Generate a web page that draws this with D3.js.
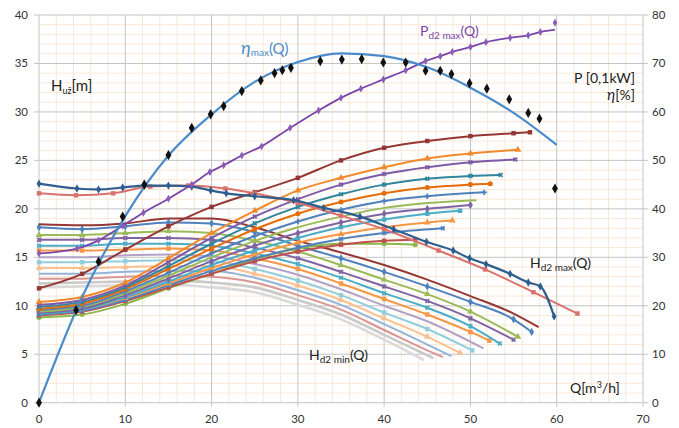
<!DOCTYPE html>
<html>
<head>
<meta charset="utf-8">
<style>
  body { margin: 0; background: #fff; font-family: Lato, "Liberation Sans", sans-serif; }
</style>
</head>
<body>
<div id="chart"></div>
<script src="https://d3js.org/d3.v7.min.js"></script>
<script>
// ---------- data ----------
const qTicks = [0, 10, 20, 30, 40, 50, 60, 70];
const hTicks = [0, 5, 10, 15, 20, 25, 30, 35, 40];
const pTicks = [0, 10, 20, 30, 40, 50, 60, 70, 80];

// common Q grid for the family curves
const qGrid = [0, 5, 10, 15, 20, 25, 30, 35, 40, 45, 50, 55];

// rising curves (H at qGrid, then the last point)
const r1 = [11.8, 13.3, 15.8, 18.2, 20.2, 21.7, 23.2, 25.0, 26.3, 27.0, 27.5, 27.8];
const r2 = [10.4, 10.9, 12.4, 14.9, 17.5, 19.8, 21.9, 23.2, 24.3, 25.2, 25.7];
const r3 = [10.1, 10.6, 12.1, 14.5, 17.0, 19.2, 21.0, 22.5, 23.6, 24.3, 24.8];
const r4 = [9.9, 10.4, 11.9, 14.1, 16.4, 18.5, 20.2, 21.5, 22.5, 23.1, 23.4];
const r5 = [9.7, 10.2, 11.7, 13.8, 15.9, 17.9, 19.5, 20.7, 21.6, 22.2, 22.5];
const r6 = [9.6, 10.0, 11.5, 13.4, 15.4, 17.2, 18.7, 19.9, 20.8, 21.3];
const r7 = [9.4, 9.9, 11.3, 13.1, 15.0, 16.7, 18.1, 19.2, 20.1, 20.6];
const r8 = [9.3, 9.7, 11.1, 12.8, 14.6, 16.2, 17.5, 18.6, 19.5, 20.0];
const r9 = [9.2, 9.6, 10.9, 12.5, 14.2, 15.7, 17.0, 18.1, 18.9, 19.5];
const r10 = [9.6, 9.7, 10.8, 12.3, 13.9, 15.3, 16.5, 17.4, 18.1, 18.6];
const r11 = [9.1, 9.5, 10.6, 12.1, 13.6, 14.9, 16.0, 16.9, 17.5];
const r12 = [9.0, 9.4, 10.5, 11.9, 13.3, 14.6, 15.6, 16.3, 16.7];
const r13 = [8.8, 9.1, 10.2, 11.8, 13.3, 14.8, 15.9, 16.4, 16.4];
const riseEnd = [[56.9, 27.9], [55.5, 26.1], [55.2, 25.1], [53.5, 23.5], [52.3, 22.6], [51.6, 21.7],
                 [50.7, 20.9], [50.0, 20.4], [48.8, 19.8], [47.9, 18.8], [46.8, 18.0], [43.6, 16.8], [43.6, 16.3]];

// falling curves (H at qGrid, then the last point)
const f1 = [18.4, 18.3, 18.5, 19.0, 19.0, 18.1, 16.7, 15.5, 14.2, 12.7, 11.0, 9.2];
const f2 = [18.1, 17.9, 18.2, 18.6, 18.5, 17.6, 16.2, 14.9, 13.5, 12.0, 10.4, 8.6];
const f3 = [17.3, 17.3, 17.5, 17.7, 17.5, 16.7, 15.6, 14.2, 12.7, 11.2, 9.4];
const f4 = [16.8, 16.8, 17.0, 17.0, 16.8, 16.0, 14.9, 13.5, 12.0, 10.5, 8.7];
const f5 = [16.2, 16.2, 16.4, 16.4, 16.2, 15.4, 14.3, 12.9, 11.3, 9.8, 7.9];
const f6 = [15.7, 15.7, 15.8, 15.9, 15.7, 14.9, 13.8, 12.3, 10.7, 9.1, 7.3];
const f7 = [15.0, 15.0, 15.2, 15.3, 15.1, 14.3, 13.2, 11.7, 10.0, 8.4];
const f8 = [14.5, 14.5, 14.6, 14.7, 14.6, 13.8, 12.6, 11.1, 9.3, 7.6];
const f9 = [13.9, 13.9, 14.0, 14.1, 14.1, 13.3, 12.1, 10.6, 8.7, 6.8];
const f10 = [13.3, 13.3, 13.5, 13.6, 13.6, 12.9, 11.6, 10.1, 8.1, 6.0];
const f11 = [12.8, 12.8, 13.0, 13.1, 13.0, 12.4, 11.1, 9.6, 7.5, 5.4];
const f12 = [12.3, 12.4, 12.5, 12.6, 12.4, 11.9, 10.6, 9.1, 7.0];
const f13 = [11.9, 12.0, 12.1, 12.2, 11.9, 11.4, 10.1, 8.6, 6.5];
const fallEnd = [[57.9, 7.8], [57.1, 7.3], [55.5, 6.8], [55.0, 6.5], [53.4, 6.1], [52.2, 6.4], [51.5, 5.6],
                 [50.2, 5.4], [48.8, 5.15], [47.8, 4.8], [46.8, 4.7], [45.7, 4.6], [44.6, 4.4]];

// H_d2max(Q) and the second top curve
const hMax = [[0, 22.6], [4.4, 22.1], [6.9, 22.0], [9.7, 22.2], [12.2, 22.4], [15, 22.4], [17.7, 22.3],
              [19.9, 21.9], [21.7, 21.6], [25, 21.3], [29.5, 20.9], [33, 20.1], [37.2, 19.2], [41.1, 17.9],
              [44.9, 16.6], [48, 15.7], [49.9, 14.9], [51.8, 14.3], [54.6, 13.3], [56.7, 12.4], [58.1, 12.0], [59.7, 8.9]];
const hTop = [[0, 21.6], [4.3, 21.4], [8.6, 21.6], [12.9, 22.3], [17.3, 22.4], [21.6, 22.1], [25, 21.6],
              [30, 20.6], [35, 19.3], [40, 17.9], [46.3, 15.7], [51.7, 13.75], [57.3, 11.4], [62.4, 9.2]];

// efficiency (right axis, %)
const etaQ = [0, 5, 10, 15, 20, 25, 30, 35, 40, 45, 50, 55, 60];
const etaFit = [0, 21.8, 38.5, 51.0, 59.5, 66.2, 70.3, 72.1, 71.5, 69.2, 65.0, 59.8, 53.2];
const etaPts = [[0, 0], [4.3, 19.1], [6.9, 29.1], [9.7, 38.4], [12.2, 45.0], [15.0, 51.1], [17.7, 56.7],
                [19.9, 59.5], [21.4, 61.2], [23.5, 64.3], [25.7, 66.5], [27.3, 68.0], [28.2, 68.6], [29.2, 69.1],
                [32.6, 70.5], [35.1, 70.8], [37.4, 70.9], [39.9, 70.2], [42.5, 70.2], [44.8, 68.5], [46.5, 68.5],
                [47.8, 67.8], [49.9, 65.9], [51.9, 64.8], [54.5, 62.6], [56.7, 59.8], [58.0, 58.6], [59.8, 44.2]];

// power P_d2max (right axis, 0,1 kW)
const pPts = [[0, 30.8], [4.4, 31.8], [6.9, 33.5], [9.7, 36.5], [12.1, 39.2], [15, 42.1], [17.7, 45.0],
              [19.8, 47.6], [21.4, 49.0], [23.5, 51.0], [25.8, 52.9], [29.1, 56.7], [32.4, 60.3], [35, 62.9],
              [37.3, 64.8], [39.9, 66.7], [42.5, 68.6], [44.8, 70.5], [46.5, 71.5], [47.9, 72.4], [50, 73.4],
              [51.8, 74.4], [54.6, 75.3], [56.7, 75.8], [58.1, 76.5], [59.8, 78.4]];
const pLineEnd = [59.8, 77.0];

// ---------- styles ----------
const riseColors = ["#953735", "#F08A2C", "#7F5BA6", "#31859C", "#E46C0A", "#4F81BD", "#9BBB59",
                    "#8064A2", "#4BACC6", "#F79646", "#4F81BD", "#C0504D", "#8CB84A"];
const riseMarks = ["square", "triangle", "x", "x", "circle", "plus", "none", "diamond", "square", "triangle", "x", "square", "circle"];
const fallColors = ["#953735", "#4F81BD", "#9BBB59", "#8064A2", "#4BACC6", "#F79646", "#B3A2C7",
                    "#93CDDD", "#FAC090", "#95B3D7", "#D99694", "#C9C9C9", "#D9D9D9"];
const fallMarks = ["none", "diamond", "triangle", "x", "x", "square", "none", "square", "triangle", "none", "none", "none", "none"];

// ---------- layout ----------
const W = 679, H = 428;
const x0 = 39, x1 = 643, yTop = 15, yBot = 402.7;

const svg = d3.select("#chart").append("svg")
  .attr("width", W).attr("height", H)
  .style("font-family", "Lato, 'Liberation Sans', sans-serif");

const x = d3.scaleLinear().domain([0, 70]).range([x0, x1]);
const y = d3.scaleLinear().domain([0, 40]).range([yBot, yTop]);
const y2 = d3.scaleLinear().domain([0, 80]).range([yBot, yTop]);

// minor grid
svg.append("g").selectAll("line")
  .data(d3.range(0, 71, 2).filter(v => v % 10 !== 0))
  .join("line")
    .attr("x1", d => x(d)).attr("x2", d => x(d))
    .attr("y1", yTop).attr("y2", yBot)
    .attr("stroke", "#fae8d6").attr("stroke-width", 1);
svg.append("g").selectAll("line")
  .data(d3.range(0, 41, 1).filter(v => v % 5 !== 0))
  .join("line")
    .attr("x1", x0).attr("x2", x1)
    .attr("y1", d => y(d)).attr("y2", d => y(d))
    .attr("stroke", "#fae8d6").attr("stroke-width", 1);

// major grid
svg.append("g").selectAll("line")
  .data(qTicks)
  .join("line")
    .attr("x1", d => x(d)).attr("x2", d => x(d))
    .attr("y1", yTop).attr("y2", yBot + 4)
    .attr("stroke", "#c4c4c4").attr("stroke-width", 1);
svg.append("g").selectAll("line")
  .data(hTicks)
  .join("line")
    .attr("x1", x0 - 5).attr("x2", x1 + 5)
    .attr("y1", d => y(d)).attr("y2", d => y(d))
    .attr("stroke", "#c4c4c4").attr("stroke-width", 1);

// tick labels
const tickStyle = sel => sel.attr("font-size", "11.5px").attr("fill", "#333");
svg.append("g").selectAll("text").data(hTicks).join("text")
  .attr("x", 28).attr("y", d => y(d) + 4).attr("text-anchor", "end")
  .text(d => d).call(tickStyle);
svg.append("g").selectAll("text").data(pTicks).join("text")
  .attr("x", 652).attr("y", d => y2(d) + 4).attr("text-anchor", "start")
  .text(d => d).call(tickStyle);
svg.append("g").selectAll("text").data(qTicks).join("text")
  .attr("x", d => x(d)).attr("y", 423).attr("text-anchor", "middle")
  .text(d => d).call(tickStyle);

// ---------- helpers ----------
const lineH = d3.line().x(d => x(d[0])).y(d => y(d[1])).curve(d3.curveMonotoneX);
const lineR = d3.line().x(d => x(d[0])).y(d => y2(d[1])).curve(d3.curveMonotoneX);

const symTypes = {
  square: d3.symbolSquare, triangle: d3.symbolTriangle, circle: d3.symbolCircle,
  diamond: d3.symbolDiamond, x: d3.symbolCross, plus: d3.symbolCross
};

function drawMarks(pts, color, mark, yScale, size) {
  if (mark === "none") return;
  const g = svg.append("g");
  g.selectAll("path").data(pts).join("path")
    .attr("d", d3.symbol().type(symTypes[mark]).size(size))
    .attr("transform", d => `translate(${x(d[0])},${yScale(d[1])})` + (mark === "x" ? " rotate(45)" : ""))
    .attr("fill", color);
}

function buildPts(vals, end) {
  return vals.map((v, i) => [qGrid[i], v]).concat([end]);
}

function drawSeries(pts, color, mark, width) {
  svg.append("path").datum(pts)
    .attr("d", lineH)
    .attr("fill", "none").attr("stroke", color).attr("stroke-width", width);
  drawMarks(pts, color, mark, y, mark === "x" || mark === "plus" ? 16 : 20);
}

// ---------- series ----------
const fall = [f1, f2, f3, f4, f5, f6, f7, f8, f9, f10, f11, f12, f13];
for (let i = fall.length - 1; i >= 0; i--) {
  drawSeries(buildPts(fall[i], fallEnd[i]), fallColors[i], fallMarks[i], i >= 11 ? 2.6 : 2);
}

const rise = [r1, r2, r3, r4, r5, r6, r7, r8, r9, r10, r11, r12, r13];
for (let i = rise.length - 1; i >= 0; i--) {
  drawSeries(buildPts(rise[i], riseEnd[i]), riseColors[i], riseMarks[i], 2);
}

drawSeries(hTop, "#D9716C", "square", 2);
drawSeries(hMax, "#2E5E8E", "diamond", 2.2);

// power line and points
svg.append("path").datum(pPts.slice(0, -1).concat([pLineEnd]))
  .attr("d", lineR)
  .attr("fill", "none").attr("stroke", "#7A45A8").attr("stroke-width", 1.8);
drawMarks(pPts, "#8A5CB8", "diamond", y2, 18);

// efficiency fit and measured points
svg.append("path").datum(etaQ.map((q, i) => [q, etaFit[i]]))
  .attr("d", lineR)
  .attr("fill", "none").attr("stroke", "#4A8BCB").attr("stroke-width", 2.2);
drawMarks(etaPts, "#111", "diamond", y2, 30);

// ---------- labels ----------
function label(xp, yp, parts, color) {
  const t = svg.append("text").attr("x", xp).attr("y", yp).attr("fill", color || "#222");
  parts.forEach(p => {
    const ts = t.append("tspan").text(p.t).attr("font-size", p.s + "px");
    if (p.dy) ts.attr("dy", p.dy);
    if (p.it) ts.attr("font-style", "italic");
  });
  return t;
}

label(51, 91, [{t: "H", s: 15}, {t: "už", s: 9, dy: 3}, {t: "[m]", s: 15, dy: -3}]);
label(241, 54, [{t: "η", s: 18, it: true}, {t: "max", s: 10, dy: 2}, {t: "(Q)", s: 15, dy: -2}], "#4A8BCB");
label(420, 36, [{t: "P", s: 14}, {t: "d2 max", s: 10, dy: 3}, {t: "(Q)", s: 14, dy: -3}], "#7A45A8");
label(635, 83, [{t: "P [0,1kW]", s: 14}]).attr("text-anchor", "end");
label(635, 100, [{t: "η", s: 15, it: true}, {t: "[%]", s: 14}]).attr("text-anchor", "end");
label(530, 268, [{t: "H", s: 14}, {t: "d2 max", s: 10, dy: 3}, {t: "(Q)", s: 14, dy: -3}]);
label(309, 360, [{t: "H", s: 14}, {t: "d2 min", s: 10, dy: 3}, {t: "(Q)", s: 14, dy: -3}]);
label(570, 393, [{t: "Q[m", s: 14}, {t: "3", s: 9, dy: -5}, {t: "/h]", s: 14, dy: 5}]);
</script>
</body>
</html>
